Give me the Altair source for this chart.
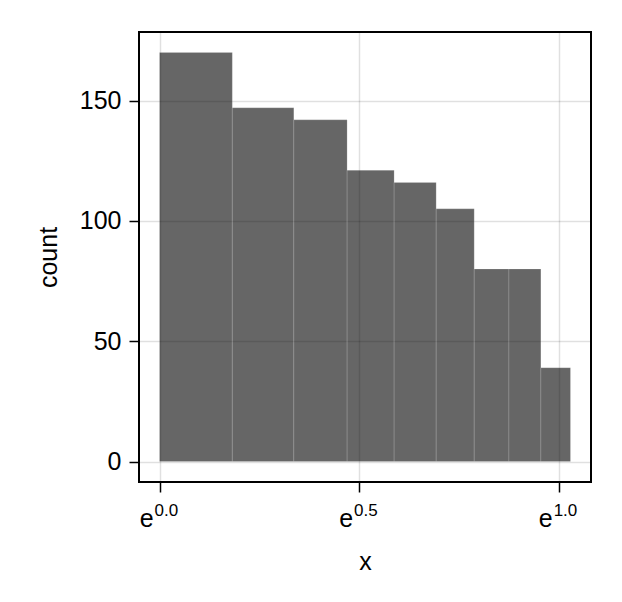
import math
import altair as alt
import pandas as pd

# histogram data (linear bins, plotted on a natural-log x axis)
bin_start = [1.0, 1.2, 1.4, 1.6, 1.8, 2.0, 2.2, 2.4, 2.6]
bin_end = [1.2, 1.4, 1.6, 1.8, 2.0, 2.2, 2.4, 2.6, 2.8]
counts = [170, 147, 142, 121, 116, 105, 80, 80, 39]

x_tick_exps = [0.0, 0.5, 1.0]
x_tick_labels = ["0.0", "0.5", "1.0"]
y_ticks = [0, 50, 100, 150]

bars = pd.DataFrame({"start": bin_start, "end": bin_end, "count": counts})
ticks = pd.DataFrame({"t": [math.exp(e) for e in x_tick_exps], "sup": x_tick_labels, "base": ["e"] * 3})

FONT = "Liberation Sans"
lo, hi = 0.0, math.log(2.8)
pad = 0.05 * (hi - lo)
xscale = alt.Scale(type="log", base=math.e, domain=[math.exp(lo - pad), math.exp(hi + pad)], nice=False)
yscale = alt.Scale(domain=[-8.5, 178.5], nice=False, zero=False)

xaxis = alt.Axis(values=[math.exp(e) for e in x_tick_exps], labels=False, title="x",
                 titleFontSize=25, titleFont=FONT, titleFontWeight="normal", titleColor="black",
                 titlePadding=57, tickSize=10, tickWidth=1.5, tickColor="black", domain=False,
                 grid=True, gridColor="#000000", gridOpacity=0.12, gridWidth=1.5)
yaxis = alt.Axis(values=y_ticks, title="count", titleFontSize=25, titleFont=FONT,
                 titleFontWeight="normal", titleColor="black", titlePadding=18,
                 labelFontSize=25, labelFont=FONT, labelColor="black", labelPadding=8,
                 tickSize=10, tickWidth=1.5, tickColor="black", domain=False,
                 grid=True, gridColor="#000000", gridOpacity=0.12, gridWidth=1.5)

hist = alt.Chart(bars).mark_rect(fill="black", fillOpacity=0.6, stroke="white",
                                 strokeOpacity=0.15, strokeWidth=1).encode(
    x=alt.X("start:Q", scale=xscale, axis=xaxis),
    x2="end:Q",
    y=alt.Y("count:Q", scale=yscale, axis=yaxis),
    y2=alt.datum(0),
)

base_txt = alt.Chart(ticks).mark_text(font=FONT, fontSize=25, align="right", baseline="alphabetic",
                                      dx=-6, color="black").encode(
    x=alt.X("t:Q", scale=xscale), y=alt.value(495), text="base:N")
sup_txt = alt.Chart(ticks).mark_text(font=FONT, fontSize=17, align="left", baseline="alphabetic",
                                     dx=-5, color="black").encode(
    x=alt.X("t:Q", scale=xscale), y=alt.value(484), text="sup:N")

chart = alt.layer(hist, base_txt, sup_txt).properties(
    width=452, height=450,
    autosize=alt.AutoSizeParams(type="none"),
    padding={"left": 131, "top": 24, "right": 23, "bottom": 112},
    background="white",
).configure_view(stroke="black", strokeWidth=2)

chart.save("out.html", embed_options={"renderer": "svg", "actions": False})
